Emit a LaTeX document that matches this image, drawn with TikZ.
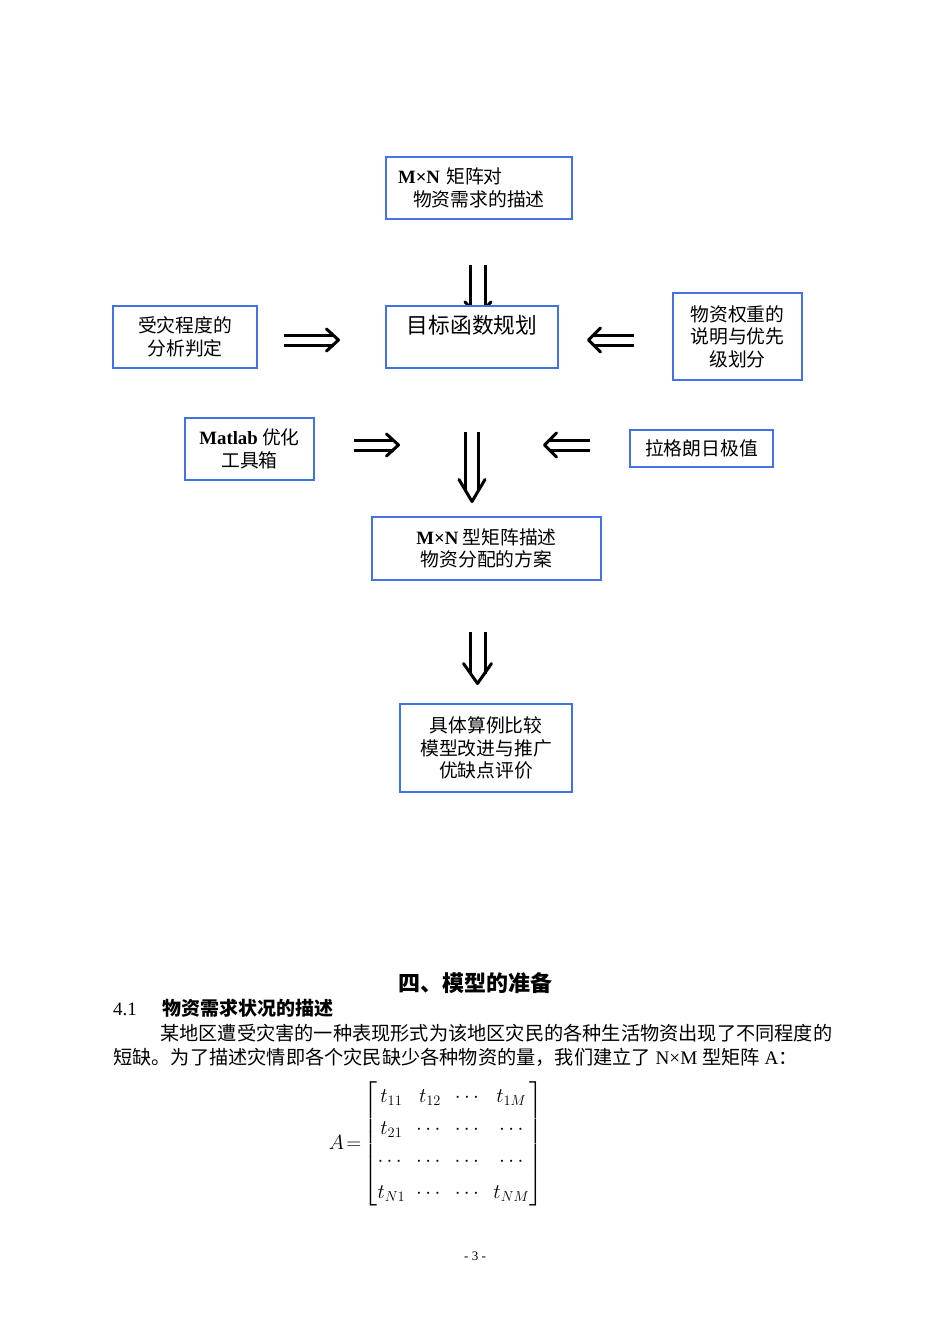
\documentclass[tikz,border=0pt]{standalone}
\usepackage{amsmath}
\usepackage{fontspec}
\setmainfont{Liberation Serif}
\newfontfamily\cjk{Noto Sans CJK SC}
\usetikzlibrary{arrows.meta, backgrounds, positioning}

\definecolor{kuanglan}{RGB}{68,114,228}
\tikzset{
  kuang/.style={draw=kuanglan, line width=2.6pt, fill=white, align=center, inner sep=0pt,
    font=\cjk\fontsize{18.8}{22.5}\selectfont},
  jiangan/.style={line width=3pt, double, double distance=#1},
  pics/jiantou/.style 2 args={code={\draw[line width=3pt, line join=round, line cap=round]
    (-#1,#2) -- (0,0) -- (-#1,-#2);}},
  zhengwen/.style={anchor=west, inner sep=0pt, font=\cjk\fontsize{19.2}{24}\selectfont},
}

\begin{document}
\begin{tikzpicture}[x=1pt, y=-1pt]
  \useasboundingbox (0,0) rectangle (950,1344);
  % boxes of the flow chart
  \node[kuang, minimum width=186pt, minimum height=62pt, text width=162pt, align=left] (xuqiu) at (479,188)
    {{\rmfamily\bfseries M×N} 矩阵对\\\hspace{15pt}物资需求的描述};
  \node[kuang, minimum width=172pt, minimum height=62pt, font=\cjk\fontsize{21.7}{26}\selectfont] (mubiao) at (472,337)
    {目标函数规划\\\mbox{}};
  \node[kuang, minimum width=144pt, minimum height=62pt] (shouzai) at (185,337) {受灾程度的\\分析判定};
  \node[kuang, minimum width=129pt, minimum height=87pt] (quanzhong) at (737.5,336.5) {物资权重的\\说明与优先\\级划分};
  \node[kuang, minimum width=129pt, minimum height=62pt] (matlab) at (249.5,449) {{\rmfamily\bfseries Matlab} 优化\\工具箱};
  \node[kuang, minimum width=143pt, minimum height=37pt] (lagelangri) at (701.5,448.5) {拉格朗日极值};
  \node[kuang, minimum width=229pt, minimum height=63pt] (fangan) at (486.5,548.5) {{\rmfamily\bfseries M×N} 型矩阵描述\\物资分配的方案};
  \node[kuang, minimum width=172pt, minimum height=88pt] (pingjia) at (486,748) {具体算例比较\\模型改进与推广\\优缺点评价};

  % arrow ends
  \coordinate (j1a) at (478,265);   \coordinate (j1b) at (478,316);
  \coordinate (j2a) at (284,340);   \coordinate (j2b) at (338.5,340);
  \coordinate (j3a) at (634,340);   \coordinate (j3b) at (588.5,340);
  \coordinate (j4a) at (354,445);   \coordinate (j4b) at (398.5,445);
  \coordinate (j5a) at (590,445);   \coordinate (j5b) at (544.5,445);
  \coordinate (j6a) at (472,432);   \coordinate (j6b) at (472,501.5);
  \coordinate (j7a) at (477.5,632); \coordinate (j7b) at (477.5,683.5);

  \begin{scope}[on background layer]
    \draw[jiangan=12pt, shorten >=8pt] (j1a) -- (j1b);
    \pic[rotate=-90] at (j1b) {jiantou={14}{13}};
  \end{scope}
  \draw[jiangan=7pt, shorten >=5pt] (j2a) -- (j2b);
  \pic at (j2b) {jiantou={12}{11}};
  \draw[jiangan=7pt, shorten >=5pt] (j3a) -- (j3b);
  \pic[rotate=180] at (j3b) {jiantou={12}{12}};
  \draw[jiangan=7pt, shorten >=5pt] (j4a) -- (j4b);
  \pic at (j4b) {jiantou={12}{11}};
  \draw[jiangan=7pt, shorten >=5pt] (j5a) -- (j5b);
  \pic[rotate=180] at (j5b) {jiantou={12}{12}};
  \draw[jiangan=10pt, shorten >=11pt] (j6a) -- (j6b);
  \pic[rotate=-90] at (j6b) {jiantou={22}{13}};
  \draw[jiangan=12pt, shorten >=10pt] (j7a) -- (j7b);
  \pic[rotate=-90] at (j7b) {jiantou={20}{14}};

  % text of the page
  \node[font=\cjk\bfseries\fontsize{22}{26}\selectfont] (biaoti) at (475,983) {四、模型的准备};
  \node[anchor=west, inner sep=0pt, font=\cjk\bfseries\fontsize{19}{23}\selectfont] (xiaojie) at (113,1008)
    {\makebox[49pt][l]{\rmfamily\mdseries 4.1}物资需求状况的描述};
  \node[zhengwen] (duan1) at (160,1033) {某地区遭受灾害的一种表现形式为该地区灾民的各种生活物资出现了不同程度的};
  \node[zhengwen] (duan2) at (113,1057) {短缺。为了描述灾情即各个灾民缺少各种物资的量，我们建立了{\rmfamily\ N×M }型矩阵{\rmfamily\ A}：};
  \node[font=\fontsize{20}{24}\selectfont] (juzhen) at (436,1144)
    {\renewcommand\arraystretch{1.33}\setlength\arraycolsep{5.5pt}%
     $A\!=\!\begin{bmatrix} t_{11} & t_{12} & \cdots & t_{1M}\\ t_{21} & \cdots & \cdots & \cdots\\
       \cdots & \cdots & \cdots & \cdots\\ t_{N1} & \cdots & \cdots & t_{NM}\end{bmatrix}$};
  \node[font=\fontsize{13}{15}\selectfont] (yema) at (475,1256) {- 3 -};
\end{tikzpicture}
\end{document}
